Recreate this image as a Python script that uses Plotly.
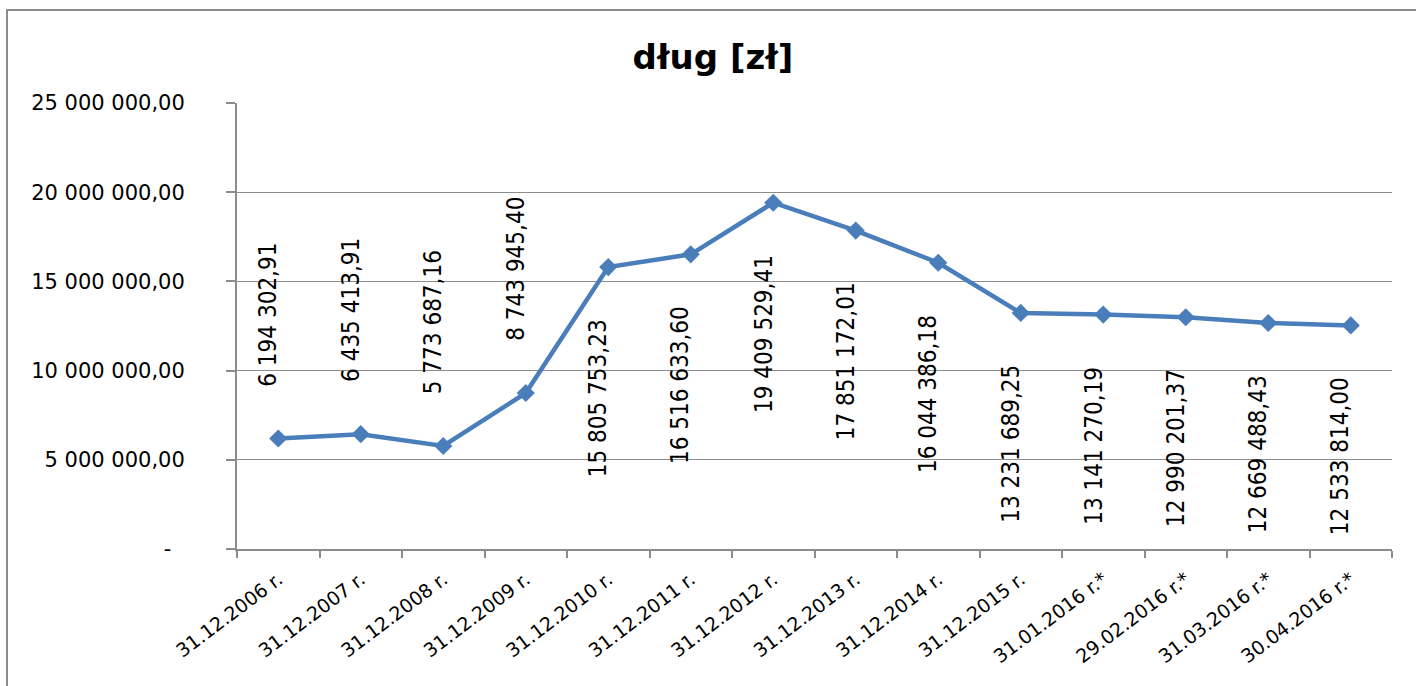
import plotly.graph_objects as go

# ---- data ----
categories = [
    "31.12.2006 r.", "31.12.2007 r.", "31.12.2008 r.", "31.12.2009 r.",
    "31.12.2010 r.", "31.12.2011 r.", "31.12.2012 r.", "31.12.2013 r.",
    "31.12.2014 r.", "31.12.2015 r.", "31.01.2016 r.*", "29.02.2016 r.*",
    "31.03.2016 r.*", "30.04.2016 r.*",
]
debt = [
    6194302.91, 6435413.91, 5773687.16, 8743945.40,
    15805753.23, 16516633.60, 19409529.41, 17851172.01,
    16044386.18, 13231689.25, 13141270.19, 12990201.37,
    12669488.43, 12533814.00,
]
y_tickvals = [0, 5000000, 10000000, 15000000, 20000000, 25000000]
y_ticktext = ["-\u00a0\u00a0", "5 000 000,00", "10 000 000,00", "15 000 000,00",
              "20 000 000,00", "25 000 000,00"]
title_text = "dług [zł]"

# ---- label styling (side of the point) ----
label_side = ["above", "above", "above", "above", "below", "below", "below",
              "below", "below", "below", "below", "below", "below", "below"]


def fmt(v):
    return f"{v:,.2f}".replace(",", " ").replace(".", ",")


LINE_COLOR = "#4A7EBB"
GRID = "#8C8C8C"

fig = go.Figure()
fig.add_trace(go.Scatter(
    x=categories, y=debt, mode="lines+markers",
    line=dict(color=LINE_COLOR, width=4.5),
    marker=dict(symbol="diamond", size=14, color=LINE_COLOR),
    hoverinfo="skip", showlegend=False,
))

for c, v, side in zip(categories, debt, label_side):
    fig.add_annotation(
        x=c, y=v, xref="x", yref="y", text=fmt(v), showarrow=False,
        textangle=-90,
        yanchor="bottom" if side == "above" else "top",
        yshift=50 if side == "above" else -50,
        xshift=-10,
        font=dict(family="DejaVu Sans Condensed, sans-serif",
                  size=24, color="#000000"),
    )

# outer chart frame
fig.add_shape(type="rect", xref="paper", yref="paper",
              x0=(7 - 237) / 1155, x1=1.2, y0=-0.5, y1=(549 - 10) / 446,
              line=dict(color=GRID, width=2), fillcolor="rgba(0,0,0,0)", layer="below")

fig.update_layout(
    width=1416, height=686,
    margin=dict(l=237, r=24, t=103, b=137),
    paper_bgcolor="white", plot_bgcolor="white",
    title=dict(text="<b>" + title_text + "</b>", xref="container", yref="container",
               x=713 / 1416, y=1 - 57 / 686, xanchor="center", yanchor="middle",
               font=dict(family="DejaVu Sans", size=34, color="#000000")),
    xaxis=dict(
        type="category", range=[-0.5, 13.5], tickson="boundaries",
        ticks="outside", ticklen=7, tickcolor=GRID, tickwidth=2,
        showline=True, linecolor=GRID, linewidth=2, showgrid=False,
        tickangle=-37, ticklabelstandoff=10,
        tickfont=dict(family="DejaVu Sans", size=19, color="#000000"),
        fixedrange=True,
    ),
    yaxis=dict(
        range=[0, 25000000], tickvals=y_tickvals, ticktext=y_ticktext,
        ticks="outside", ticklen=9, tickcolor=GRID, tickwidth=2,
        showline=True, linecolor=GRID, linewidth=2,
        showgrid=True, gridcolor=GRID, gridwidth=1, zeroline=False,
        ticklabelstandoff=37,
        tickfont=dict(family="DejaVu Sans", size=21, color="#000000"),
        fixedrange=True,
    ),
)

fig.write_html("out.html", config={"displayModeBar": False},
               post_script="document.body.style.margin='0';document.body.style.overflow='hidden';")
